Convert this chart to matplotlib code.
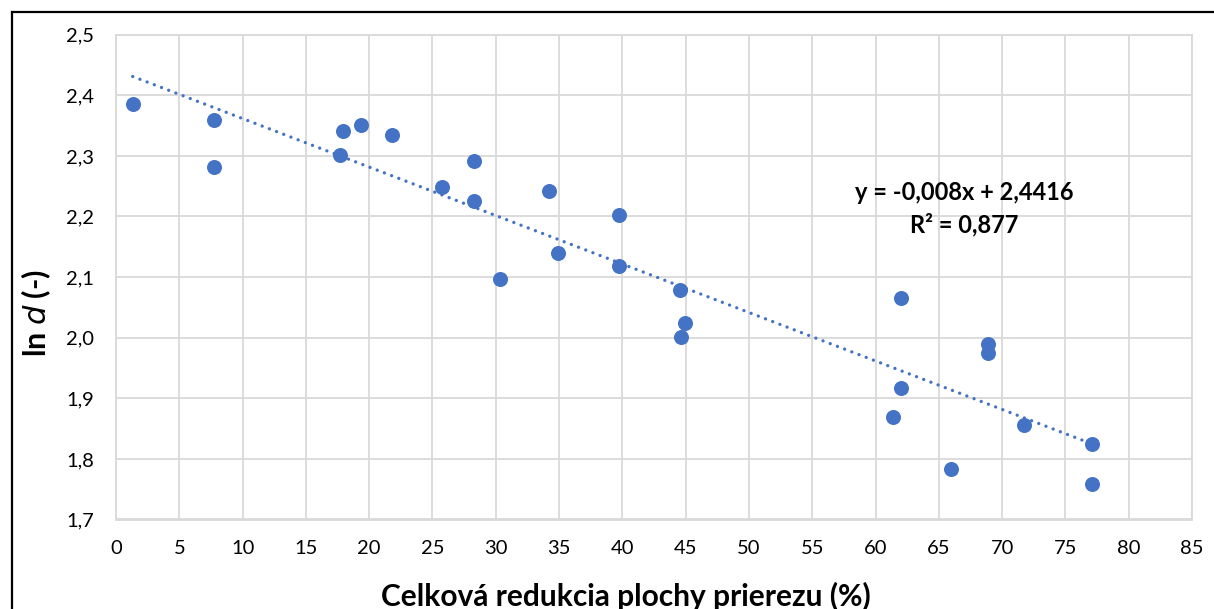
import numpy as np
import matplotlib
matplotlib.use("Agg")
import matplotlib.pyplot as plt
from matplotlib.lines import Line2D

# total area reduction (%) and ln d of each sample
reduction = [1.32, 7.76, 7.76, 17.71, 17.97, 19.32, 21.84, 25.79, 28.29, 28.29,
             30.34, 34.20, 34.89, 39.70, 39.70, 44.58, 44.95, 44.60, 62.00, 62.00,
             61.37, 65.96, 68.92, 68.92, 71.74, 77.10, 77.10]
ln_d = [2.385, 2.360, 2.282, 2.301, 2.341, 2.351, 2.334, 2.249, 2.292, 2.226,
        2.097, 2.242, 2.140, 2.203, 2.119, 2.079, 2.025, 2.001, 2.066, 1.917,
        1.869, 1.784, 1.989, 1.974, 1.856, 1.825, 1.758]

# linear trend
slope = -0.008
intercept = 2.4416
r2 = 0.877

x_ticks = list(range(0, 90, 5))
y_ticks = [1.7, 1.8, 1.9, 2.0, 2.1, 2.2, 2.3, 2.4, 2.5]

blue = "#4472C4"
grid = "#D9D9D9"
plt.rcParams["font.family"] = ["Lato", "DejaVu Sans"]

W, H = 1214, 609
fig = plt.figure(figsize=(W / 100, H / 100), dpi=100)
ax = fig.add_axes([116 / W, 1 - 519.5 / H, (1192 - 116) / W, (519.5 - 34.7) / H])

ax.set_xlim(0, 85)
ax.set_ylim(1.7, 2.5)
ax.set_xticks(x_ticks)
ax.set_yticks(y_ticks)
ax.set_xticklabels([str(t) for t in x_ticks])
ax.set_yticklabels([f"{t:.1f}".replace(".", ",") for t in y_ticks])
ax.tick_params(length=0, labelsize=14.5, colors="#000000")
ax.tick_params(axis="y", pad=16)
ax.tick_params(axis="x", pad=15)
ax.grid(True, color=grid, lw=1.3)
ax.set_axisbelow(True)
for s in ax.spines.values():
    s.set_color(grid)
    s.set_linewidth(1.3)

tx = np.array([min(reduction), max(reduction)])
ax.plot(tx, slope * tx + intercept, color=blue, lw=2.4,
        linestyle=(0, (0.01, 2.3)), dash_capstyle="round", zorder=2)

ax.plot(reduction, ln_d, "o", color=blue, markersize=10.8, mec="none", zorder=3)

fig.text(964 / W, 1 - 192 / H, f"y = {slope:.3f}x + {intercept:.4f}".replace(".", ","),
         ha="center", va="center", fontsize=17, fontweight="bold")
fig.text(964 / W, 1 - 225 / H, f"R² = {r2:.3f}".replace(".", ","),
         ha="center", va="center", fontsize=17, fontweight="bold")

fig.text(626 / W, 1 - 596 / H, "Celková redukcia plochy prierezu (%)",
         ha="center", va="center", fontsize=21.5, fontweight="bold")
fig.text(36 / W, 1 - 313 / H, r"ln $\bf{\it{d}}$ (-)", rotation=90,
         ha="center", va="center", fontsize=22, fontweight="bold")

# chart frame
fig.add_artist(Line2D([12 / W, 12 / W], [0, 1 - 12 / H], transform=fig.transFigure,
                      color="black", lw=1.6))
fig.add_artist(Line2D([12 / W, 1], [1 - 12 / H, 1 - 12 / H], transform=fig.transFigure,
                      color="black", lw=1.6))

fig.savefig("out.png", dpi=100)
